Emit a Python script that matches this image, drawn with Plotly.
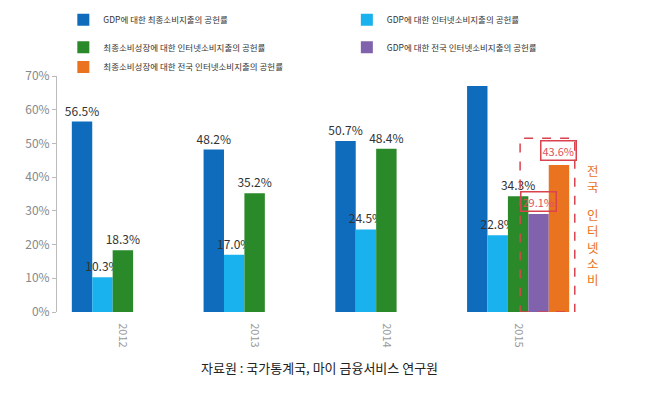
import plotly.graph_objects as go

years = ['2012', '2013', '2014', '2015']
gdp_final = [56.5, 48.2, 50.7, 67.0]
gdp_internet = [10.3, 17.0, 24.5, 22.8]
growth_internet = [18.3, 35.2, 48.4, 34.3]
gdp_national_internet = [None, None, None, 29.1]
growth_national_internet = [None, None, None, 43.6]

names = [
    'GDP에 대한 최종소비지출의 공헌률',
    'GDP에 대한 인터넷소비지출의 공헌률',
    '최종소비성장에 대한 인터넷소비지출의 공헌률',
    'GDP에 대한 전국 인터넷소비지출의 공헌률',
    '최종소비성장에 대한 전국 인터넷소비지출의 공헌률',
]
colors = ['#0f6cbd', '#19b2ee', '#2a8a2a', '#8062ad', '#ea7320']
series = [gdp_final, gdp_internet, growth_internet, gdp_national_internet, growth_national_internet]
legends = ['legend', 'legend2', 'legend3', 'legend4', 'legend5']
show_label = [[True, True, True, False], [True] * 4, [True] * 4, [False] * 4, [False] * 4]

FONT = 'Noto Sans CJK KR, sans-serif'

fig = go.Figure()
for name, col, vals, lg, sl in zip(names, colors, series, legends, show_label):
    txt = [(f'{v:.1f}%' if (v is not None and s) else '') for v, s in zip(vals, sl)]
    fig.add_trace(go.Bar(
        x=years, y=vals, name=name, marker=dict(color=col, line=dict(width=0)),
        text=txt, textposition='outside', constraintext='none', cliponaxis=False,
        textfont=dict(size=12, color='#333333', family=FONT),
        legend=lg, showlegend=True,
    ))

# red boxed labels for the national (전국) series in 2015 (x given as category index)
idx_2015 = years.index('2015')
for vals, shift, ysh in [(gdp_national_internet, 20.4, 12), (growth_national_internet, 40.8, 15)]:
    v = vals[idx_2015]
    fig.add_annotation(x=idx_2015, y=v, xref='x', yref='y', text=f'{v:.1f}%',
                       showarrow=False, xshift=shift, yshift=ysh,
                       font=dict(size=11, color='#e0505a', family=FONT),
                       bordercolor='#d9434e', borderwidth=1.5, borderpad=1)

# dashed highlight box
fig.add_shape(type='rect', xref='x', yref='y', x0=idx_2015 + 0.015, x1=idx_2015 + 0.43,
              y0=0, y1=51.5, line=dict(color='#d9434e', width=1.5, dash='dash'))

fig.add_annotation(x=1.017, y=0.648, xref='paper', yref='paper', text='전<br>국',
                   xanchor='center', yanchor='top', showarrow=False,
                   font=dict(size=12.5, color='#e8731a', family=FONT))
fig.add_annotation(x=1.017, y=0.461, xref='paper', yref='paper', text='인<br>터<br>넷<br>소<br>비',
                   xanchor='center', yanchor='top', showarrow=False,
                   font=dict(size=12.5, color='#e8731a', family=FONT))

fig.add_annotation(x=0.499, y=-0.237, xref='paper', yref='paper',
                   xanchor='center', yanchor='middle',
                   text='자료원 : 국가통계국, 마이 금융서비스 연구원',
                   showarrow=False, font=dict(size=13, color='#222222', family=FONT))

leg_common = dict(orientation='h', xanchor='left', yanchor='middle',
                  font=dict(size=8.5, color='#333333', family=FONT),
                  bgcolor='rgba(0,0,0,0)', itemclick=False)
left_x, right_x = 0.012, 0.550
row_y = [1.238, 1.122, 1.038]

fig.update_layout(
    width=639, height=389,
    margin=dict(l=49, r=63, t=68, b=85, autoexpand=False),
    paper_bgcolor='white', plot_bgcolor='white',
    barmode='group', bargap=0.225, bargroupgap=0,
    font=dict(family=FONT),
    legend=dict(x=left_x, y=row_y[0], **leg_common),
    legend2=dict(x=right_x, y=row_y[0], **leg_common),
    legend3=dict(x=left_x, y=row_y[1], **leg_common),
    legend4=dict(x=right_x, y=row_y[1], **leg_common),
    legend5=dict(x=left_x, y=row_y[2], **leg_common),
    xaxis=dict(type='category', categoryorder='array', categoryarray=years,
               range=[-0.5, 3.5], tickangle=90, showline=False, showgrid=False,
               ticks='outside', ticklen=8, tickcolor='rgba(0,0,0,0)', automargin=False,
               tickfont=dict(size=11, color='#999999', family=FONT)),
    yaxis=dict(range=[0, 70], dtick=10, ticksuffix='%', showgrid=False,
               showline=True, linecolor='#bbbbbb', linewidth=1, automargin=False,
               ticks='outside', ticklen=4, tickcolor='#bbbbbb',
               tickfont=dict(size=12, color='#888888', family=FONT), zeroline=False),
)

fig.write_html('out.html')
